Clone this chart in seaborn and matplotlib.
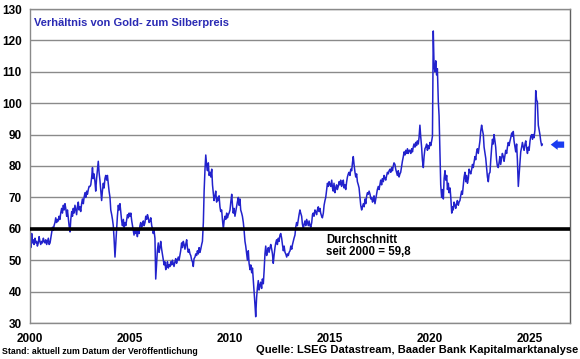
import matplotlib
matplotlib.use("Agg")
import matplotlib.pyplot as plt
import pandas as pd
import seaborn as sns

# Gold/silver price ratio, semi-monthly readings (1st and 15th of each month), 2000 - Aug 2025
ratio = [
    57.5, 54, 58.5, 55.5, 56.5, 55, 57, 55.5, 56, 54.5, 55.5, 57.5, 56, 55, 56, 55.5, 57, 56, 55.5, 56.5, 55, 56, 57, 55,  # 2000
    55.5, 57, 59, 60.5, 59.5, 61, 62, 63.5, 62, 63, 62.5, 64, 63, 65, 66.5, 65, 67.5, 66, 68, 66.5, 64, 66, 63.5, 61,  # 2001
    59, 63, 65.5, 64, 66.5, 65, 67.5, 66, 64.5, 67, 68.5, 66, 67, 65.5, 68, 69.5, 68, 70, 71.5, 70, 72, 71, 72.5, 73.5,  # 2002
    73.5, 74, 76.5, 79.5, 76, 77.5, 75, 72, 76, 78.5, 81.5, 78, 75.5, 72.5, 69, 72, 74.5, 73, 76, 77, 75.5, 77, 74.5, 72,  # 2003
    70, 66, 64.5, 63, 61, 57, 51, 55, 60, 64, 67.5, 66, 68, 65.5, 62.5, 61, 63, 60.5, 62, 61, 63, 64.5, 63.5, 65,  # 2004
    64, 65, 62.5, 61, 59.5, 58, 60, 58.5, 59.5, 57.5, 60, 58.5, 61, 62, 60.5, 61.5, 62.5, 61, 62, 64, 63, 64.5, 63.5, 62,  # 2005
    62.5, 63.5, 61, 60, 58.5, 59.5, 57, 44, 49, 53, 55.5, 52.5, 54, 56, 53.5, 52, 50, 48.5, 49.5, 47, 48, 49.5, 47.5, 48.5,  # 2006
    48, 49.5, 48.5, 50, 49, 48, 49.5, 50.5, 49, 50, 51, 50, 51.5, 53, 55.5, 54, 56, 55, 53.5, 55, 56.5, 54, 52.5, 53.5,  # 2007
    52, 51.5, 50, 49.5, 48, 50.5, 51, 52, 51.5, 53, 52, 54, 52.5, 53.5, 55, 56, 62, 72, 79, 83.5, 80, 78.5, 81, 77,  # 2008
    78, 76.5, 79, 74, 71.5, 69, 70.5, 72, 68.5, 70, 69, 70.5, 67, 65.5, 66, 63, 60, 62.5, 64, 63, 65, 63.5, 64.5, 65,  # 2009
    66, 68.5, 71, 67.5, 65, 66.5, 64, 65.5, 67, 68.5, 70, 67.5, 69.5, 66, 65, 64, 62, 59.5, 56, 54.5, 52, 50, 53, 49,  # 2010
    47, 48.5, 46, 47.5, 44, 40, 36, 32, 38, 41, 43.5, 40.5, 42, 43, 41, 44, 42.5, 46.5, 52, 54.5, 51.5, 53, 54, 52.5,  # 2011
    54, 55, 53.5, 52, 49, 51.5, 54, 55.5, 56.5, 55, 57, 56, 58, 58.5, 57, 55, 53, 54.5, 52.5, 52, 51, 52, 51.5, 52.5,  # 2012
    53, 54.5, 53.5, 55, 56, 57, 58, 60.5, 62, 61, 63, 64.5, 66, 65, 64, 61.5, 60, 61.5, 62.5, 61, 63, 62, 61, 62.5,  # 2013
    61, 60.5, 62, 64.5, 65, 64, 66, 65.5, 64.5, 66, 67, 65.5, 66.5, 65, 64, 63.5, 65, 67.5, 69, 70, 72.5, 74.5, 73.5, 75,  # 2014
    74, 73.5, 75.5, 73, 72, 74.5, 71.5, 73, 74, 72.5, 73.5, 75, 74, 75.5, 73.5, 74.5, 75.5, 73, 74, 72.5, 75, 76.5, 77.5, 78,  # 2015
    77, 79, 78.5, 81, 83, 80.5, 78, 76.5, 77.5, 75, 74, 73, 70, 67.5, 66, 67, 68, 67, 69.5, 68, 70.5, 71.5, 71, 72,  # 2016
    71, 69.5, 70, 68.5, 69, 70.5, 68, 69.5, 71, 72.5, 73.5, 72.5, 74, 75.5, 74, 76, 75, 77, 76, 75.5, 77, 78, 77.5, 78.5,  # 2017
    79, 78, 79.5, 78.5, 80, 81, 80.5, 79, 78, 77, 78.5, 76.5, 77.5, 78, 80, 81.5, 83, 84.5, 83.5, 85, 84, 85.5, 84, 85,  # 2018
    85, 84, 85.5, 84.5, 86, 87, 86, 87.5, 86.5, 88, 87, 89, 93, 89.5, 86, 82, 79.5, 83, 85.5, 86, 87, 85, 86.5, 85.5,  # 2019
    87.5, 86.5, 88, 89.5, 123, 112, 110, 113.5, 109, 111, 100.5, 96, 85, 74, 70, 72.5, 69.5, 76, 78.5, 75.5, 77, 72.5, 74.5, 71.5,  # 2020
    73, 70, 65, 67, 66, 68.5, 67.5, 66.5, 68, 69, 67.5, 68.5, 69, 70.5, 72, 71, 74, 76.5, 78, 75, 77, 74.5, 76, 79,  # 2021
    78, 77.5, 79, 80.5, 79.5, 81, 83, 82, 84.5, 85.5, 84, 86, 88, 91, 93, 91.5, 90, 86, 84, 82.5, 79, 76.5, 75, 77.5,  # 2022
    78, 82, 86, 88.5, 87, 90, 88, 86, 82, 80, 79.5, 81, 83, 80.5, 82.5, 84, 83, 81.5, 83.5, 85, 84, 86, 87.5, 86.5,  # 2023
    88, 89, 90.5, 89.5, 91, 88, 86, 84.5, 87, 82, 73.5, 77, 81, 84.5, 86, 87.5, 86, 85, 87, 88, 85.5, 84, 86, 85,  # 2024
    88, 89.5, 90, 88.5, 90, 89, 91.5, 104, 101, 100.5, 93, 91.5, 90, 88, 86.5, 87,  # 2025
]
mean_since_2000 = 59.8
current_level = 86.8
year_ticks = [2000, 2005, 2010, 2015, 2020, 2025]
y_ticks = [30, 40, 50, 60, 70, 80, 90, 100, 110, 120, 130]
title_text = "Verhältnis von Gold- zum Silberpreis"
mean_label = ["Durchschnitt", "seit 2000 = 59,8"]
stand_text = "Stand: aktuell zum Datum der Veröffentlichung"
source_text = "Quelle: LSEG Datastream, Baader Bank Kapitalmarktanalyse"

dates = pd.date_range("2000-01-01", periods=len(ratio), freq="SMS")
df = pd.DataFrame({"date": dates, "ratio": ratio})

sns.set_style("white")
plt.rcParams["font.family"] = ["Liberation Sans", "DejaVu Sans"]
plt.rcParams["font.weight"] = "bold"

LINE_BLUE = "#2222cc"
TITLE_BLUE = "#2a2ab4"
ARROW_BLUE = "#1a3cf0"
GRID = "#8a8a8a"

fig = plt.figure(figsize=(5.8, 3.59), dpi=100)
ax = fig.add_axes([30 / 580, 1 - 323 / 359, 540 / 580, 314 / 359])

ax.grid(axis="y", color=GRID, lw=1)
ax.set_axisbelow(True)
sns.lineplot(data=df, x="date", y="ratio", ax=ax, color=LINE_BLUE, lw=1.1)
ax.axhline(mean_since_2000, color="black", lw=2.6, zorder=3)

ax.set_xlim(pd.Timestamp("2000-01-01"), pd.Timestamp("2027-01-01"))
ax.set_ylim(30, 130)
ax.set_yticks(y_ticks)
ax.set_xticks([pd.Timestamp(f"{y}-01-01") for y in year_ticks])
ax.set_xticklabels([str(y) for y in year_ticks])
ax.set_xlabel("")
ax.set_ylabel("")
ax.tick_params(axis="both", labelsize=8.5, colors="black", length=4, width=1,
               direction="out", pad=2)
ax.tick_params(axis="x", pad=3, color=GRID)
ax.tick_params(axis="y", color=GRID)
for s in ax.spines.values():
    s.set_color(GRID)
    s.set_linewidth(1)
ax.spines["right"].set_color("#606060")

ax.text(4 / 540, 0.955, title_text, transform=ax.transAxes,
        color=TITLE_BLUE, fontsize=8.0, fontweight="bold", ha="left", va="center")

ax.text(0.548, 0.2643, mean_label[0], transform=ax.transAxes, fontsize=8.3,
        fontweight="bold", ha="left", va="center", color="black")
ax.text(0.548, 0.226, mean_label[1], transform=ax.transAxes, fontsize=8.3,
        fontweight="bold", ha="left", va="center", color="black")

ax.annotate("", xy=(pd.Timestamp("2025-11-24"), current_level),
            xytext=(pd.Timestamp("2026-11-06"), current_level),
            arrowprops=dict(arrowstyle="simple,head_length=0.5,head_width=0.75,tail_width=0.45",
                            fc=ARROW_BLUE, ec=ARROW_BLUE, mutation_scale=10, lw=0))

fig.text(2 / 580, 1 - 352 / 359, stand_text, fontsize=6.3, fontweight="bold",
         ha="left", va="center", color="black")
fig.text(578 / 580, 1 - 350 / 359, source_text, fontsize=8.0, fontweight="bold",
         ha="right", va="center", color="black")

fig.savefig("out.png", dpi=100)
